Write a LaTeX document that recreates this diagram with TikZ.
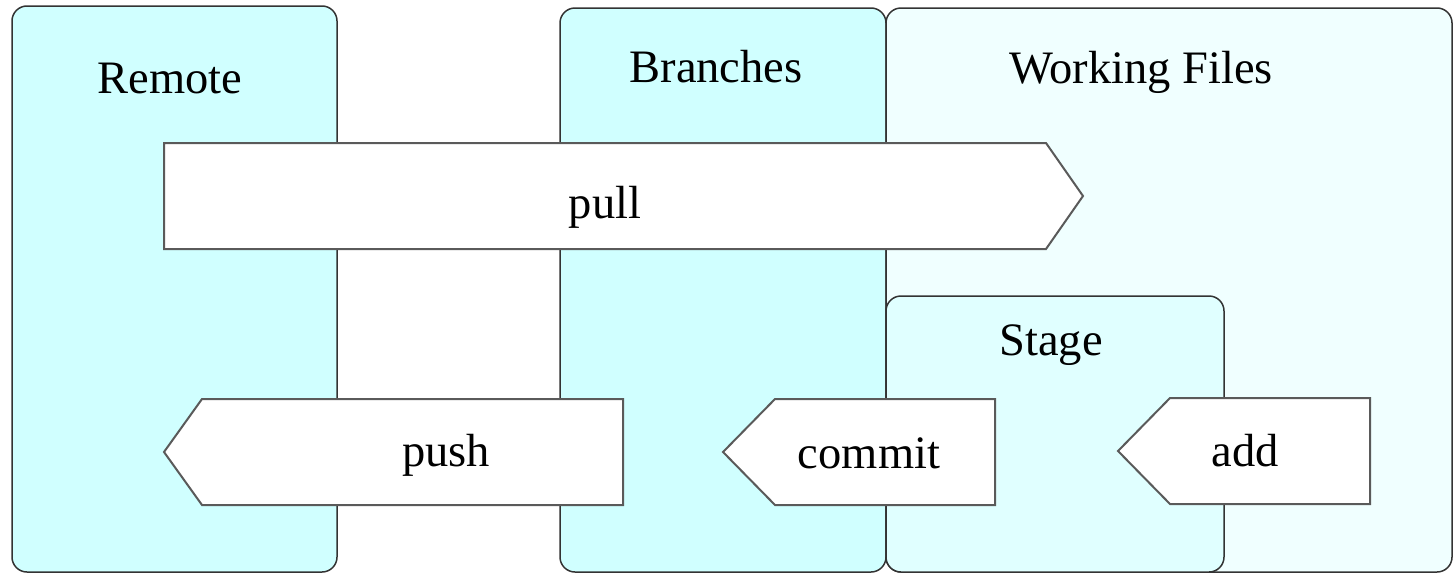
\documentclass[tikz,border=0pt]{standalone}
\usepackage{fontspec}
\setmainfont{Liberation Serif}
\definecolor{remfill}{HTML}{D0FFFF}
\definecolor{stgfill}{HTML}{E0FFFF}
\definecolor{wrkfill}{HTML}{F0FFFF}
\definecolor{boxline}{HTML}{333333}
\definecolor{arrline}{HTML}{5A5A5A}
\tikzset{
  areabox/.style={draw=boxline, line width=1.5pt, rounded corners=15pt},
  arrowshape/.style={draw=arrline, fill=white, line width=2pt, line join=miter},
  lbl/.style={anchor=base, inner sep=0pt, font=\fontsize{46.5}{50}\selectfont}
}
\begin{document}
\begin{tikzpicture}[x=1pt, y=-1pt]
\useasboundingbox (0,0) rectangle (1455,573);
% areas
\draw[areabox, fill=remfill] (12,6) rectangle (337,572);
\draw[areabox, fill=remfill] (560,8) rectangle (886,572);
\draw[areabox, fill=wrkfill] (886,8) rectangle (1452,572);
\draw[areabox, fill=stgfill] (886,296) rectangle (1224,572);
% area labels
\node[lbl] (remote) at (170,93) {Remote};
\node[lbl] (branches) at (716,82) {Branches};
\node[lbl] (working) at (1141,83) {Working Files};
\node[lbl] (stage) at (1051,355) {Stage};
% arrows
\draw[arrowshape] (164,143) -- (1046,143) -- (1083,196) -- (1046,249) -- (164,249) -- cycle;
\draw[arrowshape] (623,399) -- (202,399) -- (164,452) -- (202,505) -- (623,505) -- cycle;
\draw[arrowshape] (995,399) -- (775,399) -- (723,452) -- (775,505) -- (995,505) -- cycle;
\draw[arrowshape] (1370,398) -- (1170,398) -- (1118,451) -- (1170,504) -- (1370,504) -- cycle;
% arrow labels
\node[lbl] (pull) at (605,218) {pull};
\node[lbl] (push) at (446,466) {push};
\node[lbl] (commit) at (869,468) {commit};
\node[lbl] (add) at (1245,466) {add};
\end{tikzpicture}
\end{document}
